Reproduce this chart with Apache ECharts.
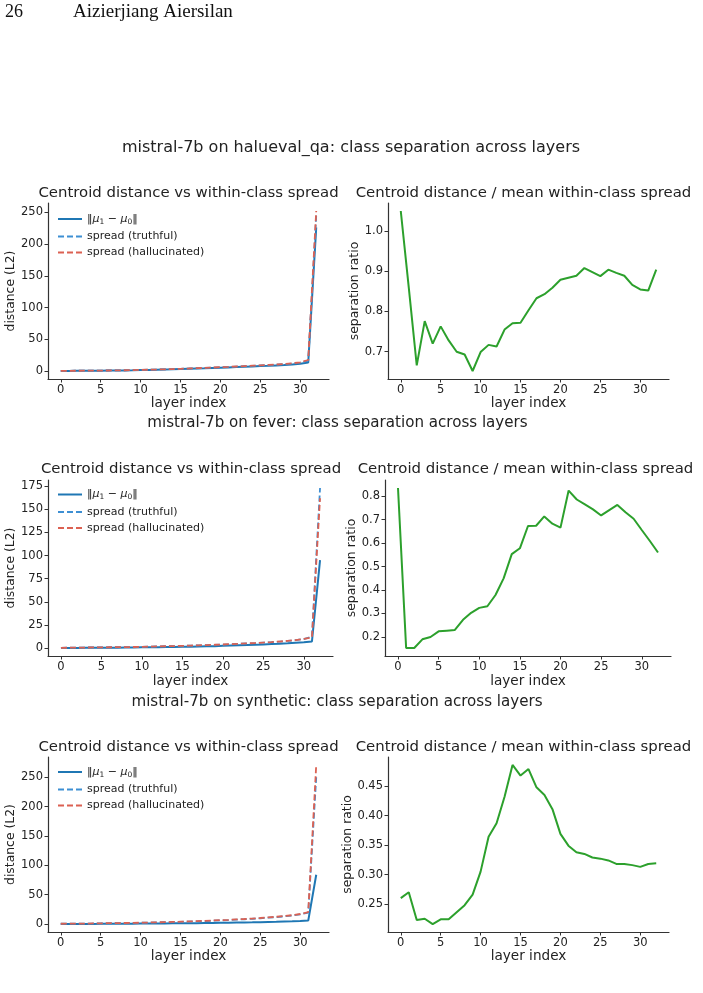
<!DOCTYPE html>
<html>
<head>
<meta charset="utf-8">
<script src="https://cdn.jsdelivr.net/npm/echarts@6/dist/echarts.min.js"></script>
<style>
  html, body { margin: 0; padding: 0; background: #fff; }
  #chart { width: 703px; height: 993px; }
</style>
</head>
<body>
<div id="chart"></div>
<script>
// layer indices (x axis)
const layers = [0, 1, 2, 3, 4, 5, 6, 7, 8, 9, 10, 11, 12, 13, 14, 15, 16,
                17, 18, 19, 20, 21, 22, 23, 24, 25, 26, 27, 28, 29, 30, 31, 32];
const xTicks = [0, 5, 10, 15, 20, 25, 30];

// halueval_qa
const haluCentroid = [0.2, 0.3, 0.4, 0.5, 0.6, 0.7, 0.8, 0.9, 1.1, 1.3, 1.6, 1.9, 2.2, 2.5, 2.8, 3.2, 3.6,
                      4.0, 4.4, 4.9, 5.4, 5.9, 6.4, 6.9, 7.4, 7.9, 8.4, 9.0, 9.6, 10.4, 11.5, 13.5, 226];
const haluTruth = [0.4, 0.5, 0.6, 0.7, 0.8, 0.9, 1.0, 1.2, 1.4, 1.6, 1.9, 2.2, 2.5, 2.8, 3.2, 3.6, 4.0,
                   4.5, 5.0, 5.5, 6.1, 6.6, 7.2, 7.8, 8.3, 8.9, 9.5, 10.2, 11.0, 12.0, 13.5, 16.5, 245];
const haluHall = [0.4, 0.5, 0.6, 0.7, 0.8, 0.9, 1.0, 1.2, 1.4, 1.6, 1.9, 2.2, 2.5, 2.9, 3.3, 3.7, 4.1,
                  4.6, 5.1, 5.6, 6.2, 6.7, 7.3, 7.9, 8.5, 9.1, 9.7, 10.4, 11.2, 12.3, 13.9, 17.5, 252];
const haluRatio = [1.05, 0.86, 0.666, 0.776, 0.72, 0.763, 0.728, 0.70, 0.693, 0.652, 0.699, 0.717, 0.713,
                   0.755, 0.771, 0.772, 0.803, 0.833, 0.843, 0.859, 0.879, 0.884, 0.889, 0.908, 0.898,
                   0.888, 0.904, 0.896, 0.889, 0.866, 0.855, 0.852, 0.904];
const haluYTicks = [0, 50, 100, 150, 200, 250];
const haluRTicks = [0.7, 0.8, 0.9, 1.0];

// fever
const feverCentroid = [0.1, 0.15, 0.2, 0.25, 0.3, 0.35, 0.4, 0.5, 0.6, 0.7, 0.8, 0.9, 1.0, 1.1, 1.2, 1.35, 1.5,
                       1.7, 1.9, 2.1, 2.4, 2.7, 3.0, 3.3, 3.6, 3.9, 4.3, 4.7, 5.2, 5.8, 6.4, 7.2, 95];
const feverTruth = [0.3, 0.4, 0.5, 0.6, 0.7, 0.8, 0.9, 1.0, 1.1, 1.2, 1.4, 1.6, 1.8, 2.0, 2.2, 2.4, 2.6,
                    2.9, 3.2, 3.5, 3.8, 4.2, 4.6, 5.0, 5.4, 5.9, 6.4, 7.0, 7.7, 8.6, 9.8, 12.3, 173];
const feverHall = [0.3, 0.4, 0.5, 0.6, 0.7, 0.8, 0.9, 1.0, 1.1, 1.2, 1.4, 1.6, 1.8, 2.0, 2.2, 2.4, 2.7,
                   3.0, 3.3, 3.6, 3.9, 4.3, 4.7, 5.1, 5.5, 6.0, 6.5, 7.1, 7.8, 8.7, 9.9, 11.6, 162];
const feverRatio = [0.835, 0.153, 0.153, 0.19, 0.2, 0.224, 0.227, 0.23, 0.273, 0.303, 0.324, 0.331, 0.379,
                    0.45, 0.553, 0.578, 0.673, 0.674, 0.714, 0.683, 0.666, 0.824, 0.786, 0.765, 0.744,
                    0.718, 0.741, 0.763, 0.732, 0.704, 0.656, 0.609, 0.56];
const feverYTicks = [0, 25, 50, 75, 100, 125, 150, 175];
const feverRTicks = [0.2, 0.3, 0.4, 0.5, 0.6, 0.7, 0.8];

// synthetic
const synthCentroid = [0.1, 0.15, 0.2, 0.3, 0.35, 0.4, 0.5, 0.6, 0.7, 0.8, 0.9, 1.0, 1.1, 1.2, 1.3, 1.4, 1.5,
                       1.6, 1.8, 2.0, 2.2, 2.4, 2.6, 2.8, 3.0, 3.3, 3.6, 3.9, 4.3, 4.7, 5.2, 6.0, 84];
const synthTruth = [0.6, 0.7, 0.8, 0.9, 1.0, 1.2, 1.4, 1.6, 1.8, 2.0, 2.3, 2.6, 2.9, 3.2, 3.5, 3.9, 4.3,
                    4.7, 5.2, 5.7, 6.3, 6.9, 7.6, 8.3, 9.1, 10.0, 11.0, 12.0, 13.2, 14.6, 16.5, 19.5, 250];
const synthHall = [0.6, 0.7, 0.8, 0.9, 1.1, 1.3, 1.5, 1.7, 1.9, 2.1, 2.4, 2.7, 3.0, 3.3, 3.7, 4.1, 4.5,
                   5.0, 5.5, 6.1, 6.7, 7.3, 8.0, 8.7, 9.5, 10.4, 11.4, 12.5, 13.7, 15.2, 17.2, 20.5, 271];
const synthRatio = [0.260, 0.270, 0.223, 0.225, 0.216, 0.224, 0.224, 0.236, 0.248, 0.266, 0.305, 0.364, 0.387,
                    0.432, 0.486, 0.468, 0.479, 0.448, 0.435, 0.411, 0.369, 0.349, 0.338, 0.335, 0.329,
                    0.327, 0.324, 0.318, 0.318, 0.316, 0.313, 0.318, 0.319];
const synthYTicks = [0, 50, 100, 150, 200, 250];
const synthRTicks = [0.25, 0.30, 0.35, 0.40, 0.45];

const FONT = 'DejaVu Sans';
const CENTROID = 'centroid';
const TRUTH = 'spread (truthful)';
const HALL = 'spread (hallucinated)';

function pairs(vals) {
    return layers.map((l, i) => [l, vals[i]]);
}

// matplotlib-like 5% margins
function autoRange(arrs) {
    const all = [].concat(...arrs);
    const lo = Math.min(...all), hi = Math.max(...all);
    const pad = (hi - lo) * 0.05;
    return [lo - pad, hi + pad];
}

const chart = echarts.init(document.getElementById('chart'));

const grids = [], xAxes = [], yAxes = [], series = [], legends = [], texts = [];

function addAxes(rect, yTicks, yRange, yName, yGap, xGap, decimals) {
    const idx = grids.length;
    grids.push({ left: rect[0], top: rect[1], width: rect[2], height: rect[3], outerBoundsMode: 'none' });
    xAxes.push({
        type: 'value', gridIndex: idx, min: -1.6, max: 33.6,
        axisLine: { show: true, onZero: false, lineStyle: { color: '#333', width: 1.2 } },
        axisTick: { show: true, length: 3.5, customValues: xTicks, lineStyle: { color: '#333' } },
        axisLabel: { customValues: xTicks, fontSize: 11.5, color: '#222', margin: 5, fontFamily: FONT },
        splitLine: { show: false },
        name: 'layer index', nameLocation: 'middle', nameGap: xGap,
        nameTextStyle: { fontSize: 13.6, color: '#222', fontFamily: FONT }
    });
    yAxes.push({
        type: 'value', gridIndex: idx, min: yRange[0], max: yRange[1],
        axisLine: { show: true, onZero: false, lineStyle: { color: '#333', width: 1.2 } },
        axisTick: { show: true, length: 3.5, customValues: yTicks, lineStyle: { color: '#333' } },
        axisLabel: {
            customValues: yTicks, fontSize: 11.5, color: '#222', margin: 5, fontFamily: FONT,
            formatter: v => v.toFixed(decimals)
        },
        splitLine: { show: false },
        name: yName, nameLocation: 'middle', nameGap: yGap,
        nameTextStyle: { fontSize: 12.4, color: '#222', fontFamily: FONT }
    });
    return idx;
}

function addDistancePanel(rect, centroid, truth, hall, yTicks, xGap, legendTop) {
    const idx = addAxes(rect, yTicks, autoRange([centroid, truth, hall]), 'distance (L2)', 30, xGap, 0);
    series.push({
        name: CENTROID, type: 'line', xAxisIndex: idx, yAxisIndex: idx, data: pairs(centroid),
        symbol: 'none', lineStyle: { color: '#1f77b4', width: 2 }, itemStyle: { color: '#1f77b4' }
    });
    series.push({
        name: TRUTH, type: 'line', xAxisIndex: idx, yAxisIndex: idx, data: pairs(truth),
        symbol: 'none', lineStyle: { color: '#3d8fd3', width: 1.8, type: [6, 3] }, itemStyle: { color: '#3d8fd3' }
    });
    series.push({
        name: HALL, type: 'line', xAxisIndex: idx, yAxisIndex: idx, data: pairs(hall),
        symbol: 'none', lineStyle: { color: '#dc6152', width: 1.8, type: [6, 3] }, itemStyle: { color: '#dc6152' }
    });
    legends.push({
        orient: 'vertical', left: rect[0] + 9, top: legendTop, padding: 0,
        itemWidth: 24, itemHeight: 10, itemGap: 5, selectedMode: false,
        itemStyle: { opacity: 0 },
        data: [CENTROID, TRUTH, HALL],
        textStyle: {
            fontSize: 11, color: '#222', fontFamily: FONT,
            rich: {
                it: { fontSize: 11, fontStyle: 'italic', fontFamily: FONT, color: '#222' },
                sub: { fontSize: 7.5, fontFamily: FONT, color: '#222', verticalAlign: 'bottom', padding: [6, 0, 0, 0] }
            }
        },
        formatter: name => name === CENTROID ? '‖{it|μ}{sub|1} − {it|μ}{sub|0}‖' : name
    });
}

function addRatioPanel(rect, ratio, yTicks, yGap, xGap, decimals) {
    const idx = addAxes(rect, yTicks, autoRange([ratio]), 'separation ratio', yGap, xGap, decimals);
    series.push({
        name: 'ratio', type: 'line', xAxisIndex: idx, yAxisIndex: idx, data: pairs(ratio),
        symbol: 'none', lineStyle: { color: '#2ca02c', width: 2 }, itemStyle: { color: '#2ca02c' }
    });
}

function label(text, x, y, size, align) {
    texts.push({
        type: 'text', x: x, y: y,
        style: { text: text, fontSize: size, fontFamily: FONT, fill: '#222', align: align || 'center', verticalAlign: 'middle' }
    });
}

// row 1: halueval_qa
addDistancePanel([48, 203, 281, 176], haluCentroid, haluTruth, haluHall, haluYTicks, 16, 213.5);
addRatioPanel([388, 203, 281, 176], haluRatio, haluRTicks, 24, 16, 1);
label('mistral-7b on halueval_qa: class separation across layers', 351, 148, 16);
label('Centroid distance vs within-class spread', 188.5, 193, 14.9);
label('Centroid distance / mean within-class spread', 523.5, 193, 14.9);

// row 2: fever
addDistancePanel([48, 480, 285, 176], feverCentroid, feverTruth, feverHall, feverYTicks, 18, 489);
addRatioPanel([385, 480, 286, 176], feverRatio, feverRTicks, 25.5, 18, 1);
label('mistral-7b on fever: class separation across layers', 337.5, 423, 15.1);
label('Centroid distance vs within-class spread', 191, 469, 14.9);
label('Centroid distance / mean within-class spread', 525.5, 469, 14.9);

// row 3: synthetic
addDistancePanel([48, 757, 281, 175], synthCentroid, synthTruth, synthHall, synthYTicks, 17.5, 766.5);
addRatioPanel([388, 757, 281, 175], synthRatio, synthRTicks, 29, 17.5, 2);
label('mistral-7b on synthetic: class separation across layers', 337, 702, 15.1);
label('Centroid distance vs within-class spread', 188.5, 747, 14.9);
label('Centroid distance / mean within-class spread', 523.5, 747, 14.9);

// page header
texts.push({ type: 'text', x: 5, y: 12, style: { text: '26', fontSize: 18, fontFamily: 'Liberation Serif', fill: '#111', verticalAlign: 'middle' } });
texts.push({ type: 'text', x: 73, y: 12, style: { text: 'Aizierjiang Aiersilan', fontSize: 19, fontFamily: 'Liberation Serif', fill: '#111', verticalAlign: 'middle' } });

chart.setOption({
    animation: false,
    backgroundColor: '#fff',
    grid: grids,
    xAxis: xAxes,
    yAxis: yAxes,
    legend: legends,
    series: series,
    graphic: texts
});

window.addEventListener('resize', function() {
    chart.resize();
});
</script>
</body>
</html>
